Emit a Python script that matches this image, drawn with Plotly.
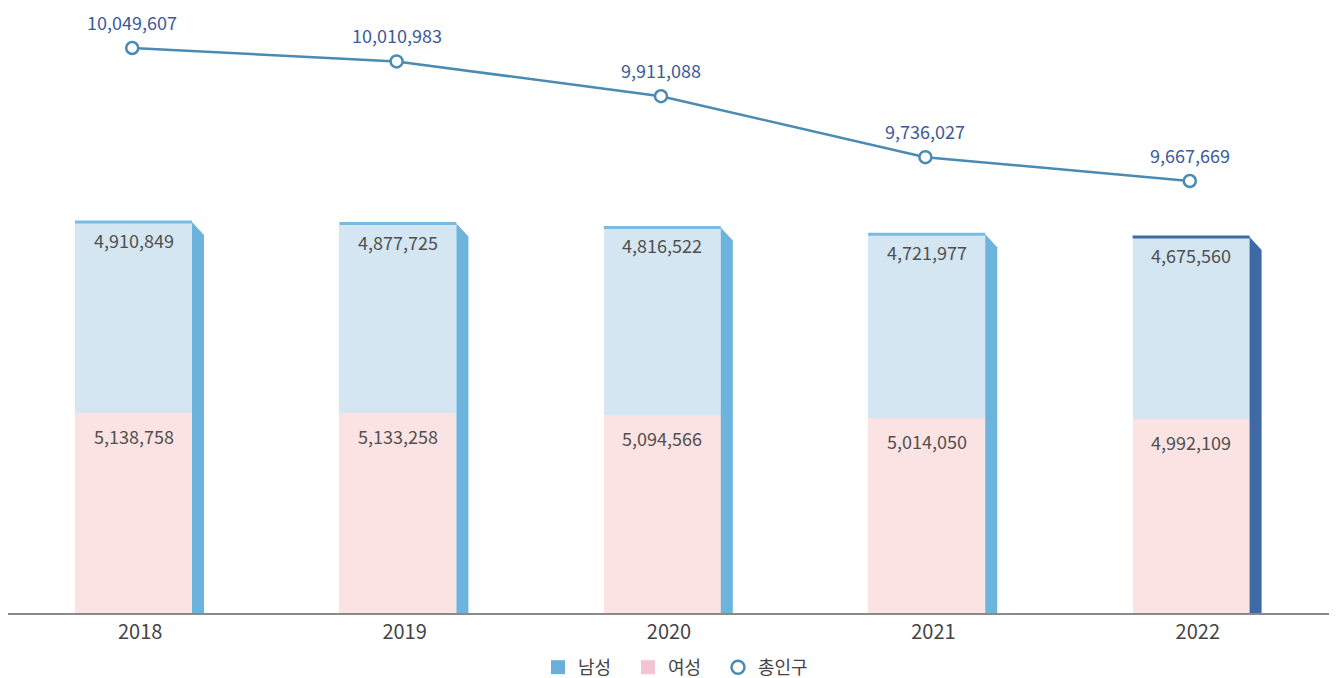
import plotly.graph_objects as go

years = ["2018", "2019", "2020", "2021", "2022"]
male = [4910849, 4877725, 4816522, 4721977, 4675560]
female = [5138758, 5133258, 5094566, 5014050, 4992109]
total = [10049607, 10010983, 9911088, 9736027, 9667669]

FONT = "Noto Sans CJK KR"
MALE_FILL = "#d4e6f2"
FEMALE_FILL = "#fce3e3"
SIDE = "#6cb3dd"
SIDE_LAST = "#3f69a5"
LINE = "#4a8ab3"

# plot geometry (px) used to convert pixel offsets into axis units
# (page body adds an 8px offset, so the figure overflows the window slightly)
W, H = 1337, 678
ML, MR, MT, MB = 0, 15, 2, 73
plot_w = W - ML - MR
plot_h = H - MT - MB
y_max = 15500000
x_unit = 5 / plot_w           # x units per px
y_unit = y_max / plot_h       # y units per px

xs = list(range(len(years)))
shift = -6.7 * x_unit
bar_w = 117 * x_unit
side_w = 12 * x_unit
side_drop = 13 * y_unit
xb = [x + shift for x in xs]
xl = [x - 8 * x_unit for x in xs]

fig = go.Figure()

fig.add_trace(go.Bar(x=xb, y=female, width=bar_w, marker=dict(color=FEMALE_FILL, line=dict(width=0)),
                     showlegend=False, hoverinfo="skip"))
fig.add_trace(go.Bar(x=xb, y=male, width=bar_w, marker=dict(color=MALE_FILL, line=dict(width=0)),
                     showlegend=False, hoverinfo="skip"))

# 3d side faces and top edges
for i, x in enumerate(xb):
    col = SIDE_LAST if i == len(xb) - 1 else SIDE
    xr = x + bar_w / 2
    fig.add_trace(go.Scatter(x=[xr, xr + side_w, xr + side_w, xr, xr],
                             y=[total[i], total[i] - side_drop, 0, 0, total[i]],
                             fill="toself", fillcolor=col, mode="lines", line=dict(width=0, color=col),
                             showlegend=False, hoverinfo="skip"))
    top_col = SIDE_LAST if i == len(xb) - 1 else "#7bbbe3"
    fig.add_trace(go.Scatter(x=[x - bar_w / 2, xr], y=[total[i], total[i]], mode="lines",
                             line=dict(width=3, color=top_col), showlegend=False, hoverinfo="skip"))

fig.add_trace(go.Scatter(x=xl, y=total, yaxis="y2", mode="lines+markers",
                         line=dict(color=LINE, width=2.5),
                         marker=dict(symbol="circle", size=12, color="white", line=dict(color=LINE, width=2.5)),
                         showlegend=False, hoverinfo="skip"))

# legend entries
fig.add_trace(go.Scatter(x=[None], y=[None], mode="markers", name="남성",
                         marker=dict(symbol="square", size=14, color="#6aafd9")))
fig.add_trace(go.Scatter(x=[None], y=[None], mode="markers", name="여성",
                         marker=dict(symbol="square", size=14, color="#f3c4d4")))
fig.add_trace(go.Scatter(x=[None], y=[None], mode="markers", name="총인구",
                         marker=dict(symbol="circle-open", size=13, color=LINE, line=dict(width=2.5))))

ann = []
for i, x in enumerate(xb):
    ann.append(dict(x=x, y=total[i], xref="x", yref="y", text=f"{male[i]:,}", showarrow=False,
                    yshift=-18, font=dict(size=18, color="#505050", family=FONT)))
    ann.append(dict(x=x, y=female[i], xref="x", yref="y", text=f"{female[i]:,}", showarrow=False,
                    yshift=-23, font=dict(size=18, color="#505050", family=FONT)))
    ann.append(dict(x=xl[i], y=total[i], xref="x", yref="y2", text=f"{total[i]:,}", showarrow=False,
                    yshift=26, font=dict(size=18, color="#3c5a9c", family=FONT)))

y2_per_px = (total[0] - total[-1]) / 133
y2_top = total[0] + 38 * y2_per_px
y2_bot = y2_top - plot_h * y2_per_px

fig.update_layout(
    width=W, height=H,
    margin=dict(l=ML, r=MR, t=MT, b=MB),
    paper_bgcolor="white", plot_bgcolor="white",
    barmode="stack", bargap=0,
    font=dict(family=FONT, size=18, color="#444"),
    xaxis=dict(range=[-0.5, 4.5], tickvals=xs, ticktext=years, showgrid=False, zeroline=False,
               showline=True, linecolor="#8a8a8a", linewidth=1.5, ticks="",
               tickfont=dict(size=20, color="#444")),
    yaxis=dict(range=[0, y_max], visible=False, showgrid=False, zeroline=False),
    yaxis2=dict(range=[y2_bot, y2_top], overlaying="y", visible=False, showgrid=False, zeroline=False),
    legend=dict(orientation="h", x=0.5 + 4 / plot_w, xanchor="center", y=-55 / plot_h, yanchor="middle",
                traceorder="normal", font=dict(size=18, color="#444", family=FONT),
                itemwidth=30, entrywidth=45),
    annotations=ann,
)

fig.write_html("out.html")
